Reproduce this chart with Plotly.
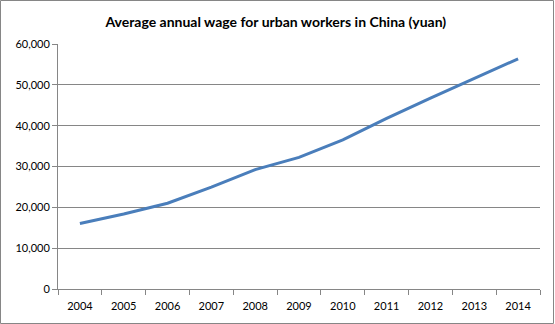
import plotly.graph_objects as go

years = ["2004", "2005", "2006", "2007", "2008", "2009", "2010", "2011", "2012", "2013", "2014"]
wages = [16024, 18364, 21001, 24932, 29229, 32244, 36539, 41799, 46769, 51483, 56360]

W, H = 555, 324
L, R, T, B = 58, 15, 44, 35
pw, ph = W - L - R, H - T - B

fig = go.Figure()
fig.add_trace(go.Scatter(x=years, y=wages, mode="lines",
                         line=dict(color="#4A7EBB", width=3), hoverinfo="x+y"))

grey = "#868686"
fig.update_layout(
    width=W, height=H,
    margin=dict(l=L, r=R, t=T, b=B),
    paper_bgcolor="white", plot_bgcolor="white",
    showlegend=False,
    font=dict(family="Lato, Open Sans, sans-serif", size=11, color="#000000"),
    title=dict(text="<b>Average annual wage for urban workers in China (yuan)</b>",
               x=0.497, xref="container", xanchor="center", y=1 - 22 / H, yanchor="middle",
               font=dict(size=14, color="#000000")),
    xaxis=dict(type="category", range=[-0.5, 10.5], showgrid=False,
               showline=True, linecolor=grey, linewidth=1,
               ticks="outside", tickson="boundaries", ticklen=5, tickcolor=grey,
               ticklabelstandoff=7,
               tickfont=dict(size=11)),
    yaxis=dict(range=[0, 60000], dtick=10000, tickformat=",d",
               showgrid=True, gridcolor=grey, gridwidth=1,
               showline=True, linecolor=grey, linewidth=1,
               ticks="outside", ticklen=5, tickcolor=grey, zeroline=False,
               tickfont=dict(size=11)),
    shapes=[dict(type="rect", xref="paper", yref="paper",
                 x0=(-L + 0.5) / pw, x1=(pw + R - 1.5) / pw,
                 y0=(-B + 0.5) / ph, y1=(ph + T - 0.5) / ph,
                 line=dict(color=grey, width=1), fillcolor="rgba(0,0,0,0)")],
)

fig.write_html("out.html")
